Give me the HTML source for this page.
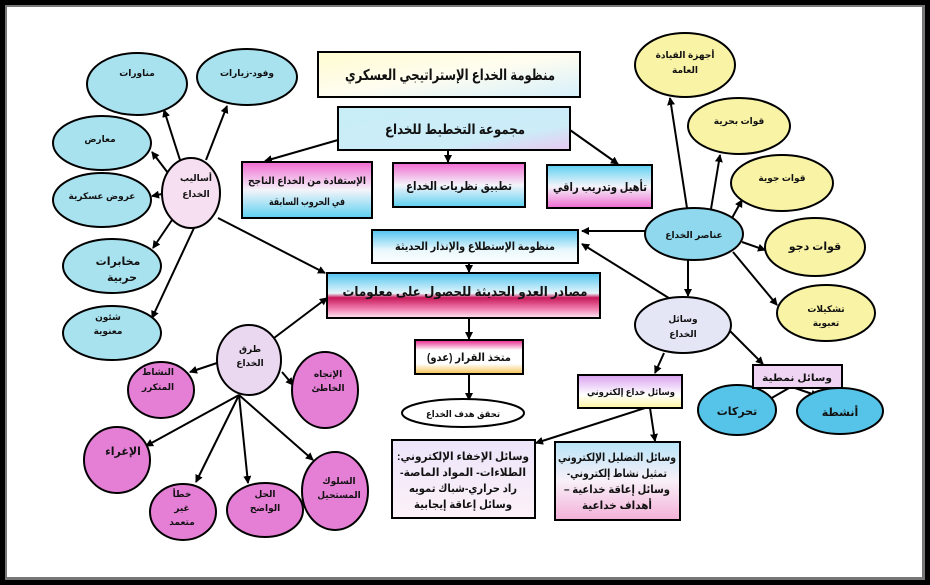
<!DOCTYPE html>
<html><head><meta charset="utf-8"><style>
html,body{margin:0;padding:0;background:#000;}
svg{display:block}
text{font-family:"Liberation Sans","DejaVu Sans",sans-serif;font-weight:bold;fill:#111;text-anchor:middle;direction:rtl}
</style></head><body>
<svg width="930" height="585" viewBox="0 0 930 585" xmlns="http://www.w3.org/2000/svg">
<defs>
<marker id="a" markerWidth="8" markerHeight="8" refX="7" refY="4" orient="auto" markerUnits="userSpaceOnUse"><path d="M0,0 L8,4 L0,8 z" fill="#000"/></marker>
<linearGradient id="gTitle" x1="0" y1="0" x2="1" y2="1"><stop offset="0" stop-color="#fffbd0"/><stop offset="0.5" stop-color="#fffdf0"/><stop offset="1" stop-color="#d6f0fb"/></linearGradient>
<linearGradient id="gPlan" x1="0" y1="0" x2="1" y2="1"><stop offset="0" stop-color="#c8eef8"/><stop offset="0.7" stop-color="#ccecf8"/><stop offset="1" stop-color="#e8c8f0"/></linearGradient>
<linearGradient id="gPC" x1="0" y1="0" x2="0" y2="1"><stop offset="0" stop-color="#f06ad0"/><stop offset="0.5" stop-color="#f4f4fa"/><stop offset="1" stop-color="#5cd0f0"/></linearGradient>
<linearGradient id="gCP" x1="0" y1="0" x2="0" y2="1"><stop offset="0" stop-color="#5cd0f0"/><stop offset="0.5" stop-color="#f4f4fa"/><stop offset="1" stop-color="#f06ad0"/></linearGradient>
<linearGradient id="gRec" x1="0" y1="0" x2="0" y2="1"><stop offset="0" stop-color="#4fc4ef"/><stop offset="0.6" stop-color="#e8f7fc"/><stop offset="1" stop-color="#ffffff"/></linearGradient>
<linearGradient id="gSrc" x1="0" y1="0" x2="0" y2="1"><stop offset="0" stop-color="#4fc4ef"/><stop offset="0.45" stop-color="#e6f6fb"/><stop offset="0.55" stop-color="#c8185a"/><stop offset="0.8" stop-color="#f080b0"/><stop offset="1" stop-color="#fde8f4"/></linearGradient>
<linearGradient id="gDec" x1="0" y1="0" x2="0" y2="1"><stop offset="0" stop-color="#e8208a"/><stop offset="0.3" stop-color="#fff"/><stop offset="0.7" stop-color="#fff"/><stop offset="1" stop-color="#f7c050"/></linearGradient>
<linearGradient id="gEl" x1="0" y1="0" x2="0" y2="1"><stop offset="0" stop-color="#d9a0f0"/><stop offset="0.6" stop-color="#fff"/><stop offset="1" stop-color="#fff6a0"/></linearGradient>
<linearGradient id="gBR" x1="0" y1="0" x2="0" y2="1"><stop offset="0" stop-color="#b8e4f8"/><stop offset="0.5" stop-color="#f8f0f8"/><stop offset="1" stop-color="#f4b0d8"/></linearGradient>
<linearGradient id="gBL" x1="0" y1="0" x2="0" y2="1"><stop offset="0" stop-color="#ece4fa"/><stop offset="1" stop-color="#fdf2f8"/></linearGradient>
</defs>
<rect x="0" y="0" width="930" height="585" fill="#000"/>
<rect x="5" y="5" width="920" height="575" fill="#777"/>
<rect x="7" y="7" width="915" height="570" fill="#fff"/>

<g stroke="#000" stroke-width="2" fill="none" marker-end="url(#a)">
<line x1="180" y1="160" x2="164" y2="110"/>
<line x1="206" y1="160" x2="227" y2="106"/>
<line x1="168" y1="173" x2="152" y2="152"/>
<line x1="162" y1="194" x2="152" y2="196"/>
<line x1="172" y1="220" x2="153" y2="248"/>
<line x1="194" y1="228" x2="152" y2="318"/>
<line x1="218" y1="218" x2="325" y2="273"/>
<line x1="274" y1="338" x2="327" y2="298"/>
<line x1="217" y1="363" x2="190" y2="372"/>
<line x1="282" y1="372" x2="293" y2="385"/>
<line x1="239" y1="395" x2="146" y2="446"/>
<line x1="239" y1="395" x2="196" y2="482"/>
<line x1="239" y1="395" x2="248" y2="483"/>
<line x1="239" y1="395" x2="313" y2="460"/>
<line x1="338" y1="140" x2="265" y2="161"/>
<line x1="448" y1="150" x2="448" y2="162"/>
<line x1="570" y1="130" x2="618" y2="164"/>
<line x1="469" y1="263" x2="469" y2="272"/>
<line x1="469" y1="318" x2="469" y2="339"/>
<line x1="469" y1="374" x2="469" y2="400"/>
<line x1="646" y1="231" x2="582" y2="231"/>
<line x1="672" y1="300" x2="582" y2="244"/>
<line x1="687" y1="208" x2="670" y2="98"/>
<line x1="711" y1="209" x2="720" y2="155"/>
<line x1="732" y1="218" x2="742" y2="200"/>
<line x1="742" y1="242" x2="765" y2="250"/>
<line x1="733" y1="252" x2="777" y2="305"/>
<line x1="688" y1="260" x2="688" y2="296"/>
<line x1="664" y1="353" x2="655" y2="373"/>
<line x1="730" y1="331" x2="763" y2="364"/>
<line x1="789" y1="388" x2="763" y2="403"/>
<line x1="795" y1="388" x2="818" y2="396"/>
<line x1="650" y1="408" x2="655" y2="441"/>
<line x1="645" y1="408" x2="536" y2="443"/>
</g>

<g stroke="#000" stroke-width="2" fill="#a9e2ef">
<ellipse cx="137" cy="84" rx="50" ry="31"/>
<ellipse cx="247" cy="77" rx="50" ry="28"/>
<ellipse cx="102" cy="143" rx="49" ry="27"/>
<ellipse cx="102" cy="200" rx="49" ry="27"/>
<ellipse cx="112" cy="266" rx="49" ry="27"/>
<ellipse cx="112" cy="333" rx="49" ry="27"/>
</g>
<ellipse cx="191" cy="193" rx="29" ry="35" fill="#f6dff0" stroke="#000" stroke-width="2"/>
<ellipse cx="249" cy="360" rx="32" ry="35" fill="#ead8f0" stroke="#000" stroke-width="2"/>
<g stroke="#000" stroke-width="2" fill="#e57fd6">
<ellipse cx="161" cy="390" rx="33" ry="28"/>
<ellipse cx="325" cy="390" rx="33" ry="38"/>
<ellipse cx="117" cy="460" rx="33" ry="33"/>
<ellipse cx="183" cy="512" rx="33" ry="28"/>
<ellipse cx="265" cy="510" rx="38" ry="27"/>
<ellipse cx="335" cy="491" rx="33" ry="39"/>
</g>

<g stroke="#000" stroke-width="2" fill="#f9f3a5">
<ellipse cx="685" cy="65" rx="50" ry="32"/>
<ellipse cx="739" cy="126" rx="51" ry="28"/>
<ellipse cx="782" cy="183" rx="51" ry="28"/>
<ellipse cx="815" cy="247" rx="50" ry="29"/>
<ellipse cx="826" cy="313" rx="49" ry="28"/>
</g>
<ellipse cx="694" cy="234" rx="49" ry="26" fill="#8fd8ee" stroke="#000" stroke-width="2"/>
<ellipse cx="683" cy="325" rx="48" ry="28" fill="#e4e6f6" stroke="#000" stroke-width="2"/>
<ellipse cx="737" cy="410" rx="39" ry="25" fill="#56c4e8" stroke="#000" stroke-width="2"/>
<ellipse cx="840" cy="411" rx="43" ry="23" fill="#56c4e8" stroke="#000" stroke-width="2"/>
<ellipse cx="463" cy="413" rx="61" ry="14" fill="#fff" stroke="#000" stroke-width="2"/>

<g stroke="#000" stroke-width="2">
<rect x="318" y="52" width="262" height="45" fill="url(#gTitle)"/>
<rect x="338" y="107" width="232" height="43" fill="url(#gPlan)"/>
<rect x="242" y="162" width="130" height="56" fill="url(#gPC)"/>
<rect x="393" y="163" width="132" height="44" fill="url(#gPC)"/>
<rect x="547" y="165" width="105" height="43" fill="url(#gCP)"/>
<rect x="372" y="230" width="206" height="33" fill="url(#gRec)"/>
<rect x="327" y="273" width="273" height="45" fill="url(#gSrc)"/>
<rect x="415" y="340" width="108" height="34" fill="url(#gDec)"/>
<rect x="578" y="375" width="104" height="33" fill="url(#gEl)"/>
<rect x="753" y="365" width="89" height="23" fill="#f0d4f4"/>
<rect x="392" y="440" width="143" height="78" fill="url(#gBL)"/>
<rect x="555" y="442" width="125" height="78" fill="url(#gBR)"/>
</g>

<g lengthAdjust="spacingAndGlyphs">
<text x="450" y="80" font-size="15" textLength="210" lengthAdjust="spacingAndGlyphs">منظومة الخداع الإستراتيجي العسكري</text>
<text x="455" y="134" font-size="14" textLength="140" lengthAdjust="spacingAndGlyphs">مجموعة التخطيط للخداع</text>
<text x="307" y="184" font-size="10" textLength="118" lengthAdjust="spacingAndGlyphs">الإستفادة من الخداع الناجح</text>
<text x="307" y="205" font-size="10" textLength="76" lengthAdjust="spacingAndGlyphs">في الحروب  السابقة</text>
<text x="459" y="190" font-size="12" textLength="106" lengthAdjust="spacingAndGlyphs">تطبيق نظريات الخداع</text>
<text x="600" y="191" font-size="12" textLength="94" lengthAdjust="spacingAndGlyphs">تأهيل وتدريب راقي</text>
<text x="475" y="250" font-size="11" textLength="160" lengthAdjust="spacingAndGlyphs">منظومة الإستطلاع والإنذار الحديثة</text>
<text x="465" y="296" font-size="13" textLength="245" lengthAdjust="spacingAndGlyphs">مصادر العدو الحديثة للحصول على معلومات</text>
<text x="469" y="361" font-size="11" textLength="84" lengthAdjust="spacingAndGlyphs">متخذ القرار (عدو)</text>
<text x="463" y="417" font-size="9" textLength="74" lengthAdjust="spacingAndGlyphs">تحقق هدف الخداع</text>
<text x="631" y="395" font-size="9" textLength="88" lengthAdjust="spacingAndGlyphs">وسائل خداع إلكتروني</text>
<text x="797" y="381" font-size="10" textLength="70" lengthAdjust="spacingAndGlyphs">وسائل نمطية</text>
<text x="737" y="415" font-size="11">تحركات</text>
<text x="840" y="416" font-size="11">أنشطة</text>
<text x="463" y="460" font-size="11" textLength="132" lengthAdjust="spacingAndGlyphs">وسائل الإخفاء الإلكتروني:</text>
<text x="463" y="476" font-size="11" textLength="126" lengthAdjust="spacingAndGlyphs">الطلاءات- المواد الماصة-</text>
<text x="463" y="492" font-size="11" textLength="108" lengthAdjust="spacingAndGlyphs">راد حراري-شباك تمويه</text>
<text x="463" y="508" font-size="11" textLength="98" lengthAdjust="spacingAndGlyphs">وسائل إعاقة إيجابية</text>
<text x="617" y="461" font-size="11" textLength="118" lengthAdjust="spacingAndGlyphs">وسائل التضليل الإلكتروني</text>
<text x="617" y="477" font-size="11" textLength="100" lengthAdjust="spacingAndGlyphs">تمثيل نشاط إلكتروني-</text>
<text x="617" y="493" font-size="11" textLength="106" lengthAdjust="spacingAndGlyphs">وسائل إعاقة خداعية –</text>
<text x="617" y="509" font-size="11" textLength="70" lengthAdjust="spacingAndGlyphs">أهداف خداعية</text>
</g>

<g font-size="9">
<text x="685" y="58">أجهزة القيادة</text>
<text x="685" y="73">العامة</text>
<text x="739" y="124">قوات بحرية</text>
<text x="782" y="181">قوات جوية</text>
<text x="815" y="250" font-size="11">قوات دجو</text>
<text x="826" y="312">تشكيلات</text>
<text x="826" y="326">تعبوية</text>
<text x="694" y="238">عناصر الخداع</text>
<text x="683" y="322">وسائل</text>
<text x="683" y="337">الخداع</text>
<text x="137" y="76">مناورات</text>
<text x="247" y="76">وفود-زيارات</text>
<text x="100" y="142">معارض</text>
<text x="102" y="199">عروض عسكرية</text>
<text x="118" y="265" font-size="11">مخابرات</text>
<text x="122" y="281" font-size="11">حربية</text>
<text x="108" y="320">شئون</text>
<text x="108" y="334">معنوية</text>
<text x="196" y="181">أساليب</text>
<text x="196" y="197">الخداع</text>
<text x="250" y="352">طرق</text>
<text x="250" y="366">الخداع</text>
<text x="158" y="375">النشاط</text>
<text x="158" y="390">المتكرر</text>
<text x="328" y="377">الإتجاه</text>
<text x="328" y="391">الخاطئ</text>
<text x="123" y="455" font-size="11">الإغراء</text>
<text x="182" y="497">خطأ</text>
<text x="182" y="511">غير</text>
<text x="182" y="525">متعمد</text>
<text x="265" y="497">الحل</text>
<text x="265" y="511">الواضح</text>
<text x="339" y="484">السلوك</text>
<text x="339" y="498">المستحيل</text>
</g>
</svg>
</body></html>
